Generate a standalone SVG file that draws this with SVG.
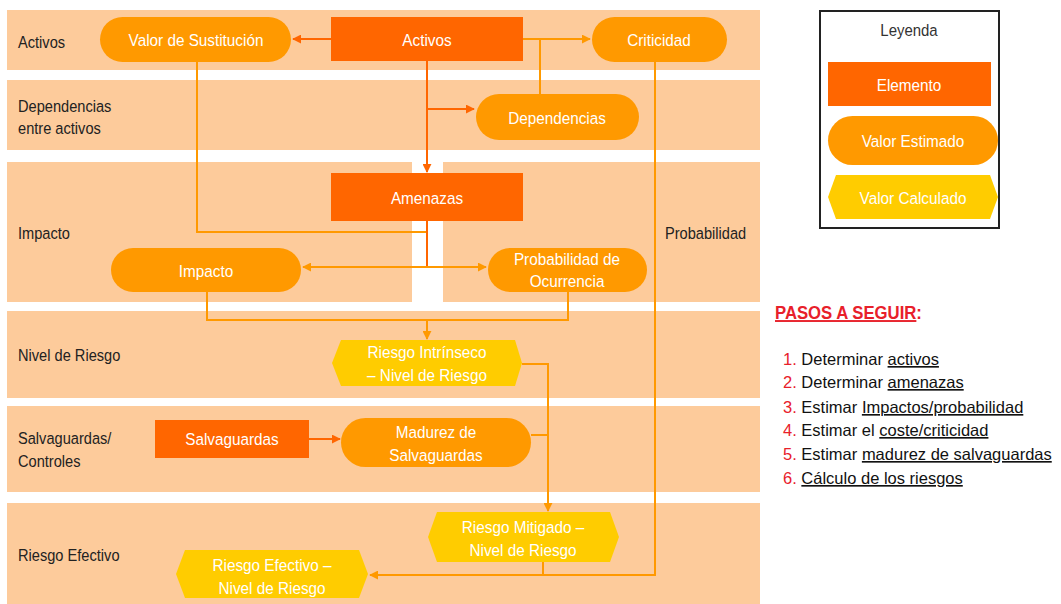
<svg xmlns="http://www.w3.org/2000/svg" width="1061" height="604" viewBox="0 0 1061 604">
  <defs>
    <style>
      .band { fill: #FDCB9B; }
      .lane { font-family: "Liberation Sans", Arial, sans-serif; font-size: 17px; fill: #222; }
      .elem { fill: #FF6600; }
      .est { fill: #FF9900; }
      .calc { fill: #FFCC00; }
      .lbl { font-family: "Liberation Sans", Arial, sans-serif; font-size: 17px; fill: #FFFFFF; text-anchor: middle; }
      .dark { fill: none; stroke: #FF6600; stroke-width: 2; }
      .light { fill: none; stroke: #FF9900; stroke-width: 2; }
      .step { font-family: "Liberation Sans", Arial, sans-serif; font-size: 16.5px; fill: #111; }
      .num { fill: #E8202A; }
      .u { text-decoration: underline; }
    </style>
    <marker id="ahDark" viewBox="0 0 10 10" refX="9" refY="5" markerWidth="9" markerHeight="9" markerUnits="userSpaceOnUse" orient="auto">
      <path d="M0,0 L10,5 L0,10 z" fill="#FF6600"/>
    </marker>
    <marker id="ahLight" viewBox="0 0 10 10" refX="9" refY="5" markerWidth="9" markerHeight="9" markerUnits="userSpaceOnUse" orient="auto">
      <path d="M0,0 L10,5 L0,10 z" fill="#FF9900"/>
    </marker>
  </defs>

  <rect width="1061" height="604" fill="#FFFFFF"/>

  <!-- swim lanes; labels are narrowed horizontally -->
  <g id="lanes">
    <rect class="band" x="7" y="10" width="753" height="60"/>
    <rect class="band" x="7" y="80" width="753" height="70"/>
    <rect class="band" x="7" y="162" width="405" height="140"/>
    <rect class="band" x="443" y="162" width="317" height="140"/>
    <rect class="band" x="7" y="311" width="753" height="87"/>
    <rect class="band" x="7" y="406" width="753" height="86"/>
    <rect class="band" x="7" y="503" width="753" height="101"/>
    <text class="lane" transform="translate(18,48) scale(0.86,1)">Activos</text>
    <text class="lane" transform="translate(18,112) scale(0.86,1)">Dependencias</text>
    <text class="lane" transform="translate(18,134) scale(0.86,1)">entre activos</text>
    <text class="lane" transform="translate(18,239) scale(0.86,1)">Impacto</text>
    <text class="lane" transform="translate(665,239) scale(0.86,1)">Probabilidad</text>
    <text class="lane" transform="translate(18,361) scale(0.86,1)">Nivel de Riesgo</text>
    <text class="lane" transform="translate(18,444) scale(0.86,1)">Salvaguardas/</text>
    <text class="lane" transform="translate(18,467) scale(0.86,1)">Controles</text>
    <text class="lane" transform="translate(18,561) scale(0.86,1)">Riesgo Efectivo</text>
  </g>

  <!-- connectors -->
  <g id="connectors">
    <path class="dark" d="M331,39 H293" marker-end="url(#ahDark)"/>
    <path class="light" d="M523,39 H590" marker-end="url(#ahLight)"/>
    <path class="light" d="M540,39 V94"/>
    <path class="dark" d="M427,61 V172" marker-end="url(#ahDark)"/>
    <path class="dark" d="M427,109 H474" marker-end="url(#ahDark)"/>
    <path class="light" d="M197,62 V232 H427"/>
    <path class="light" d="M655,62 V575 H370" marker-end="url(#ahLight)"/>
    <path class="dark" d="M427,221 V267"/>
    <path class="light" d="M427,267 H303" marker-end="url(#ahLight)"/>
    <path class="light" d="M427,267 H486" marker-end="url(#ahLight)"/>
    <path class="light" d="M207,292 V320 H568 V292"/>
    <path class="light" d="M427,320 V339" marker-end="url(#ahLight)"/>
    <path class="light" d="M522,364 H548 V511" marker-end="url(#ahLight)"/>
    <path class="light" d="M531,435 H548"/>
    <path class="dark" d="M309,439 H340" marker-end="url(#ahDark)"/>
    <path class="light" d="M543,562 V575"/>
  </g>

  <!-- nodes -->
  <g id="valor-sustitucion">
    <rect class="est" x="100" y="17" width="191" height="45" rx="22.5"/>
    <text class="lbl" transform="translate(196,46) scale(0.9,1)">Valor de Sustitución</text>
  </g>
  <g id="activos">
    <rect class="elem" x="331" y="17" width="192" height="44"/>
    <text class="lbl" transform="translate(427,46) scale(0.9,1)">Activos</text>
  </g>
  <g id="criticidad">
    <rect class="est" x="592" y="17" width="135" height="45" rx="22.5"/>
    <text class="lbl" transform="translate(659,46) scale(0.9,1)">Criticidad</text>
  </g>
  <g id="dependencias">
    <rect class="est" x="476" y="94" width="163" height="46" rx="23"/>
    <text class="lbl" transform="translate(557,124) scale(0.9,1)">Dependencias</text>
  </g>
  <g id="amenazas">
    <rect class="elem" x="331" y="173" width="192" height="48"/>
    <text class="lbl" transform="translate(427,204) scale(0.9,1)">Amenazas</text>
  </g>
  <g id="impacto">
    <rect class="est" x="111" y="248" width="190" height="44" rx="22"/>
    <text class="lbl" transform="translate(206,277) scale(0.9,1)">Impacto</text>
  </g>
  <g id="probabilidad-ocurrencia">
    <rect class="est" x="488" y="248" width="159" height="44" rx="22"/>
    <text class="lbl" transform="translate(567,265) scale(0.9,1)">Probabilidad de</text>
    <text class="lbl" transform="translate(567,287) scale(0.9,1)">Ocurrencia</text>
  </g>
  <g id="riesgo-intrinseco">
    <polygon class="calc" points="332,363 341,340 515,340 522,363 515,386 341,386"/>
    <text class="lbl" transform="translate(427,358) scale(0.9,1)">Riesgo Intrínseco</text>
    <text class="lbl" transform="translate(427,381) scale(0.9,1)">– Nivel de Riesgo</text>
  </g>
  <g id="salvaguardas">
    <rect class="elem" x="155" y="420" width="154" height="38"/>
    <text class="lbl" transform="translate(232,445) scale(0.9,1)">Salvaguardas</text>
  </g>
  <g id="madurez-salvaguardas">
    <rect class="est" x="341" y="418" width="190" height="49" rx="24.5"/>
    <text class="lbl" transform="translate(436,438) scale(0.9,1)">Madurez de</text>
    <text class="lbl" transform="translate(436,461) scale(0.9,1)">Salvaguardas</text>
  </g>
  <g id="riesgo-mitigado">
    <polygon class="calc" points="428,537 437,512 610,512 619,537 610,562 437,562"/>
    <text class="lbl" transform="translate(523,533) scale(0.9,1)">Riesgo Mitigado –</text>
    <text class="lbl" transform="translate(523,556) scale(0.9,1)">Nivel de Riesgo</text>
  </g>
  <g id="riesgo-efectivo">
    <polygon class="calc" points="176,574 185,550 359,550 368,574 359,598 185,598"/>
    <text class="lbl" transform="translate(272,571) scale(0.9,1)">Riesgo Efectivo –</text>
    <text class="lbl" transform="translate(272,594) scale(0.9,1)">Nivel de Riesgo</text>
  </g>

  <!-- legend -->
  <g id="leyenda">
    <rect x="820" y="11" width="179" height="217" fill="#FFFFFF" stroke="#222" stroke-width="2"/>
    <text transform="translate(909,36) scale(0.88,1)" font-family="Liberation Sans, Arial, sans-serif" font-size="17" fill="#333" text-anchor="middle">Leyenda</text>
    <rect class="elem" x="828" y="62" width="163" height="44"/>
    <text class="lbl" transform="translate(909,91) scale(0.9,1)">Elemento</text>
    <rect class="est" x="828" y="116" width="170" height="49" rx="24.5"/>
    <text class="lbl" transform="translate(913,147) scale(0.9,1)">Valor Estimado</text>
    <polygon class="calc" points="828,197 836,175 990,175 998,197 990,219 836,219"/>
    <text class="lbl" transform="translate(913,204) scale(0.9,1)">Valor Calculado</text>
  </g>

  <!-- steps -->
  <g id="pasos">
    <text transform="translate(775,319) scale(0.88,1)" font-family="Liberation Sans, Arial, sans-serif" font-size="19" font-weight="bold" fill="#E8202A"><tspan class="u">PASOS A SEGUIR</tspan>:</text>
    <text class="step" x="783" y="365"><tspan class="num">1. </tspan>Determinar <tspan class="u">activos</tspan></text>
    <text class="step" x="783" y="388"><tspan class="num">2. </tspan>Determinar <tspan class="u">amenazas</tspan></text>
    <text class="step" x="783" y="413"><tspan class="num">3. </tspan>Estimar <tspan class="u">Impactos/probabilidad</tspan></text>
    <text class="step" x="783" y="436"><tspan class="num">4. </tspan>Estimar el <tspan class="u">coste/criticidad</tspan></text>
    <text class="step" x="783" y="460"><tspan class="num">5. </tspan>Estimar <tspan class="u">madurez de salvaguardas</tspan></text>
    <text class="step" x="783" y="484"><tspan class="num">6. </tspan><tspan class="u">Cálculo de los riesgos</tspan></text>
  </g>
</svg>
